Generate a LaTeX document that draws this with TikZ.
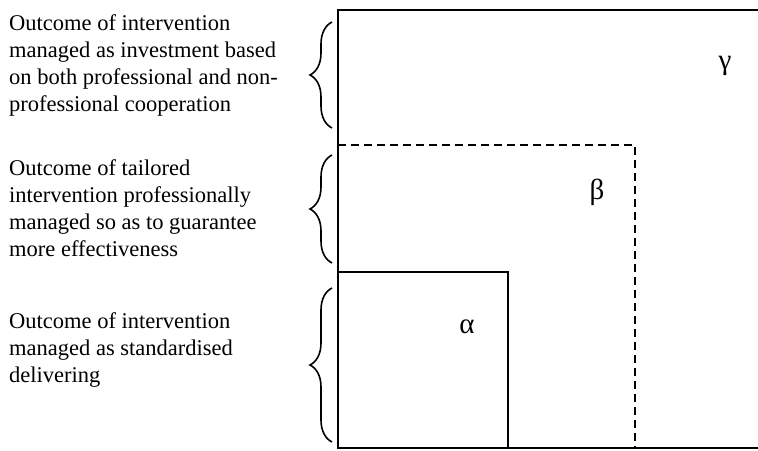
\documentclass[tikz,border=0pt]{standalone}
\usepackage{fontspec}
\setmainfont{Liberation Serif}
\usetikzlibrary{positioning, decorations.pathreplacing}

\begin{document}
\begin{tikzpicture}[x=1pt, y=-1pt,
  desc/.style={anchor=north west, align=left, inner sep=0pt,
    font=\fontsize{22.5}{27}\selectfont},
  greek/.style={anchor=base, inner sep=0pt, font=\fontsize{29}{32}\selectfont},
  curly/.style={decorate, decoration={brace, amplitude=22pt}, line width=1.6pt},
  frame/.style={line width=1.8pt},
  dashframe/.style={line width=2.2pt, dash pattern=on 8pt off 5pt}]
  \useasboundingbox (0,0) rectangle (758,450);

  % corners of the three areas
  \coordinate (gtop) at (338,10);
  \coordinate (gbot) at (338,448);
  \coordinate (gtr) at (760,10);
  \coordinate (gbr) at (760,448);
  \coordinate (btl) at (338,145);
  \coordinate (btr) at (635,145);
  \coordinate (bbr) at (635,448);
  \coordinate (atl) at (338,272);
  \coordinate (atr) at (508,272);
  \coordinate (abr) at (508,448);

  \draw[frame] (gtr) -- (gtop) -- (gbot) -- (gbr);
  \draw[dashframe] (btl) -- (btr) -- (bbr);
  \draw[frame] (atl) -- (atr) -- (abr);

  \node[greek] (gamma) at (725,69) {γ};
  \node[greek] (beta) at (597,199) {β};
  \node[greek] (alpha) at (467,333) {α};

  % braces
  \coordinate (b1s) at (332,128);
  \coordinate (b1e) at (332,22);
  \coordinate (b2s) at (332,263);
  \coordinate (b2e) at (332,155);
  \coordinate (b3s) at (332,442);
  \coordinate (b3e) at (332,288);
  \draw[curly] (b1s) -- (b1e);
  \draw[curly] (b2s) -- (b2e);
  \draw[curly] (b3s) -- (b3e);

  \node[desc] (invest) at (9,14.5) {Outcome of intervention\\managed as investment based\\on both professional and non-\\professional cooperation};
  \node[desc] (tailor) at (9,159.5) {Outcome of tailored\\intervention professionally\\managed so as to guarantee\\more effectiveness};
  \node[desc] (standard) at (9,312.5) {Outcome of intervention\\managed as standardised\\delivering};
\end{tikzpicture}
\end{document}
